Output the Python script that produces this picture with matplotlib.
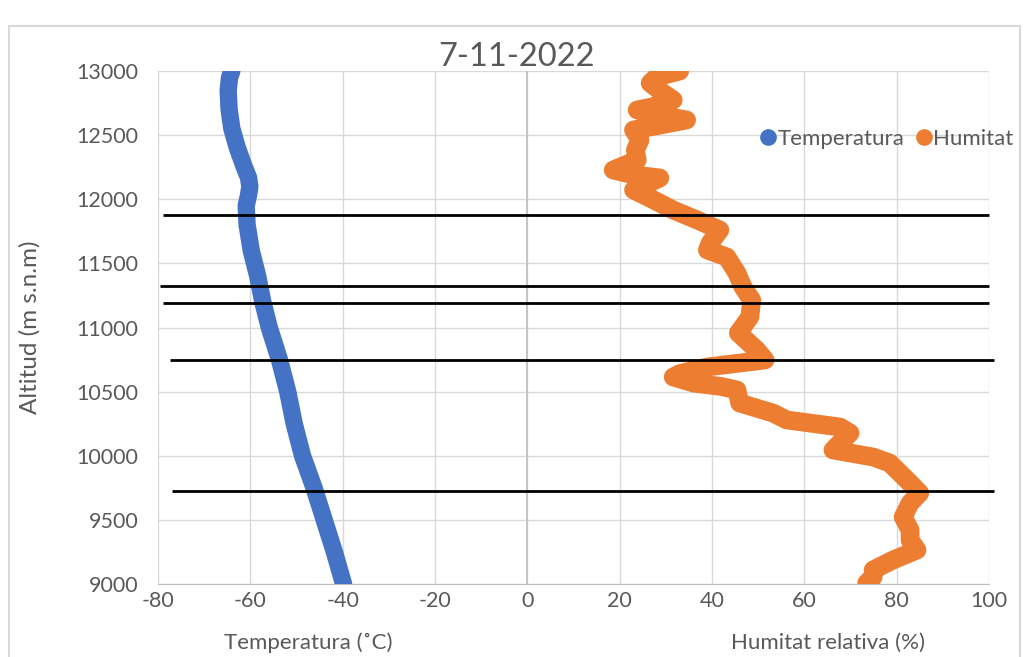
import matplotlib
matplotlib.use('Agg')
import matplotlib.pyplot as plt
from matplotlib.lines import Line2D
from matplotlib.patches import Rectangle

plt.rcParams['font.family'] = ['Lato', 'DejaVu Sans']
plt.rcParams['axes.unicode_minus'] = False

# perfil de temperatura
alt_temp = [13000, 12950, 12850, 12700, 12550, 12400, 12250, 12170, 12100, 12030, 11950,
            11800, 11600, 11400, 11200, 11000, 10750, 10500, 10250, 10000, 9750,
            9500, 9250, 9000]
temp = [-64.0, -64.5, -64.8, -64.6, -64.0, -62.8, -61.3, -60.4, -60.1, -60.4, -60.9,
        -60.7, -59.8, -58.4, -57.3, -55.9, -53.7, -51.9, -50.5, -48.7, -46.2,
        -44.0, -41.8, -39.8]

# perfil d'humitat relativa
alt_hum = [13000, 12953, 12906, 12828, 12774, 12720, 12696, 12660, 12618, 12580,
           12540, 12462, 12384, 12306, 12228, 12190, 12166, 12120, 12072, 11994,
           11916, 11838, 11760, 11659, 11604, 11550, 11425, 11316, 11214, 11082,
           10957, 10825, 10747, 10692, 10640, 10614, 10567, 10540, 10513, 10411,
           10333, 10279, 10224, 10177, 10099, 10045, 9990, 9943, 9865, 9787,
           9709, 9631, 9522, 9421, 9343, 9265, 9187, 9109, 9054, 9008]
hum = [33.0, 28.0, 26.6, 29.4, 31.6, 27.0, 23.8, 28.0, 34.5, 29.0,
       23.0, 24.4, 23.4, 23.8, 18.6, 23.0, 28.7, 26.0, 23.0, 27.4,
       31.6, 36.8, 41.7, 39.6, 39.0, 43.2, 45.4, 46.7, 48.6, 48.2,
       45.7, 49.7, 51.5, 39.0, 33.0, 31.6, 36.0, 42.0, 45.4, 46.0,
       53.2, 56.2, 67.7, 69.9, 67.7, 66.2, 74.9, 78.5, 80.7, 82.9,
       85.0, 82.9, 81.4, 82.9, 82.9, 84.4, 79.2, 74.9, 74.9, 73.5]

# nivells marcats
level_alts = [11877, 11324, 11191, 10747, 9725]
level_x0 = [-79.0, -79.5, -79.0, -77.5, -77.0]
level_x1 = [100.0, 100.0, 100.0, 101.0, 101.0]

blue = '#4472C4'
orange = '#ED7D31'
txt = '#595959'

fig = plt.figure(figsize=(10.24, 6.57), dpi=100)
ax = fig.add_axes([158/1024, 1 - 584/657, 831/1024, 513/657])

ax.plot(temp, alt_temp, color=blue, lw=12.5, solid_capstyle='round',
        solid_joinstyle='round', zorder=3)
ax.plot(hum, alt_hum, color=orange, lw=13.5, solid_capstyle='round',
        solid_joinstyle='round', zorder=3)
ax.hlines(level_alts, level_x0, level_x1, color='black', lw=2, zorder=5,
          clip_on=False)

ax.set_xlim(-80, 100)
ax.set_ylim(9000, 13000)
ax.set_xticks(range(-80, 101, 20))
ax.set_yticks(range(9000, 13001, 500))
ax.grid(True, color='#D9D9D9', lw=1, zorder=0)
ax.set_axisbelow(True)
ax.axvline(0, color='#BFBFBF', lw=1.2, zorder=1)
for s in ['top', 'right', 'left']:
    ax.spines[s].set_visible(False)
ax.spines['bottom'].set_color('#BFBFBF')
ax.tick_params(length=0, labelsize=15.5, colors=txt)
ax.tick_params(axis='y', pad=14)
ax.tick_params(axis='x', pad=5)

fig.text(517/1024, 1 - 57/657, '7-11-2022', ha='center', va='center',
         fontsize=23.5, color=txt)
fig.text(30/1024, 1 - 327/657, 'Altitud (m s.n.m)', rotation=90, ha='center',
         va='center', fontsize=17.5, color=txt)
fig.text(308/1024, 1 - 643/657, 'Temperatura (˚C)', ha='center', va='center',
         fontsize=16, color=txt)
fig.text(828/1024, 1 - 643/657, 'Humitat relativa (%)', ha='center', va='center',
         fontsize=16, color=txt)

handles = [Line2D([], [], ls='none', marker='o', ms=11, color=blue),
           Line2D([], [], ls='none', marker='o', ms=11, color=orange)]
leg = fig.legend(handles, ['Temperatura', 'Humitat'], loc='center left',
                 bbox_to_anchor=(762/1024, 1 - 139/657), ncol=2, frameon=False,
                 fontsize=16, handlelength=0.55, handletextpad=0.15,
                 columnspacing=0.6, borderpad=0, borderaxespad=0)
for t in leg.get_texts():
    t.set_color(txt)

fig.patches.append(Rectangle((9/1024, -0.1), 1011/1024, 1.08 - 13/657,
                             transform=fig.transFigure, fill=False,
                             edgecolor='#D9D9D9', lw=1.5))

fig.savefig('out.png', dpi=100)
